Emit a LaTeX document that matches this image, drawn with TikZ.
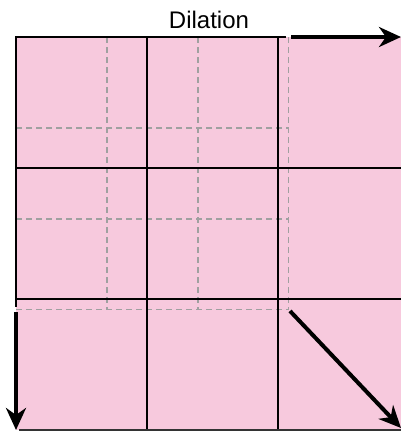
\documentclass[tikz,border=0pt]{standalone}
\usepackage{fontspec}
\setmainfont{Liberation Sans}
\usetikzlibrary{arrows.meta}
\definecolor{pinkfill}{HTML}{F7C9DD}
\definecolor{dashgray}{HTML}{A0A0A0}
\tikzset{
  gridline/.style={black, line width=2pt},
  oldgrid/.style={dashgray, line width=1.8pt, dash pattern=on 6pt off 4pt},
  dilarrow/.style={black, line width=4pt, -{Stealth[length=22pt,width=20pt,inset=7pt]}},
}
\begin{document}
\begin{tikzpicture}[x=1pt,y=-1pt]
\useasboundingbox (0,0) rectangle (401,432);
% dilated area
\fill[pinkfill] (16,37) rectangle (401,430);
% original grid (dashed)
\foreach \v in {106.8,197.7,288.5}{
  \draw[oldgrid] (\v,37) -- (\v,309.5);
}
\foreach \h in {127.8,218.7,309.5}{
  \draw[oldgrid] (16,\h) -- (288.5,\h);
}
% dilated grid
\foreach \v in {146.8,277.6}{
  \draw[gridline] (\v,37) -- (\v,430);
}
\foreach \h in {168.3,299}{
  \draw[gridline] (16,\h) -- (401,\h);
}
% borders
\coordinate (tl) at (16,37);
\coordinate (tm) at (286,37);
\coordinate (lm) at (16,307);
\coordinate (bl) at (19,430);
\coordinate (br) at (401,430);
\draw[gridline] (tm) -- (tl) -- (lm);
\draw[gridline, black!80] (bl) -- (br);
% arrows
\coordinate (a1s) at (291,37);
\coordinate (a1e) at (401,37);
\coordinate (a2s) at (16,312);
\coordinate (a2e) at (16,430);
\coordinate (a3s) at (290,311);
\coordinate (a3e) at (401,428);
\draw[dilarrow] (a1s) -- (a1e);
\draw[dilarrow] (a2s) -- (a2e);
\draw[dilarrow] (a3s) -- (a3e);
% title
\node[font=\fontsize{24}{28}\selectfont, anchor=base] (title) at (209,28) {Dilation};
\end{tikzpicture}
\end{document}
